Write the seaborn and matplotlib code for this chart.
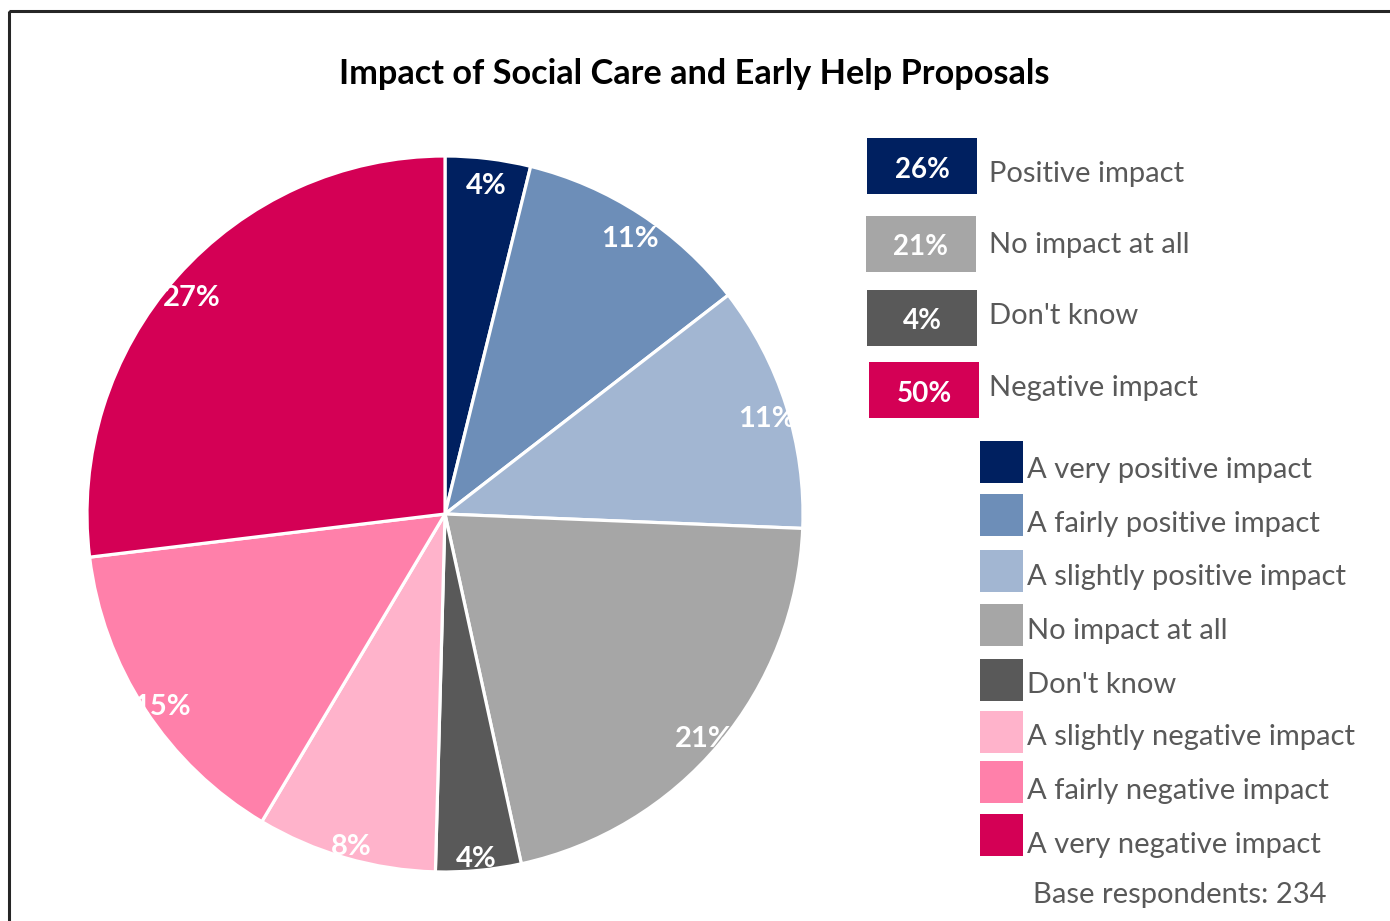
import matplotlib
matplotlib.use("Agg")
import matplotlib.pyplot as plt
from matplotlib.patches import Rectangle
import seaborn as sns

# ---- data ----
categories = ["A very positive impact", "A fairly positive impact", "A slightly positive impact",
              "No impact at all", "Don't know", "A slightly negative impact",
              "A fairly negative impact", "A very negative impact"]
counts = [9, 25, 26, 49, 9, 19, 34, 63]
colors = ["#002060", "#6D8EB8", "#A2B6D2", "#A6A6A6", "#595959", "#FFB3CB", "#FF80AA", "#D40055"]

summary_labels = ["Positive impact", "No impact at all", "Don't know", "Negative impact"]
summary_values = [26, 21, 4, 50]
summary_colors = ["#002060", "#A6A6A6", "#595959", "#D40055"]

base_n = 234
title = "Impact of Social Care and Early Help Proposals"

sns.set_theme(style="white")
plt.rcParams["font.family"] = ["Lato", "DejaVu Sans"]
palette = sns.color_palette(colors)

W, H = 1390, 921
fig = plt.figure(figsize=(W / 100, H / 100), dpi=100)

# pie axes: centre (445,514), radius 358 px
cx, cy, r = 445, 514, 358
ax = fig.add_axes([(cx - r) / W, (H - (cy + r)) / H, 2 * r / W, 2 * r / H])
wedges, texts, autotexts = ax.pie(
    counts, colors=palette, startangle=90, counterclock=False,
    autopct=lambda p: f"{round(p)}%", pctdistance=0.945, radius=1.0,
    wedgeprops=dict(edgecolor="white", linewidth=2.3),
    textprops=dict(color="white", fontsize=21, fontweight="bold"))
# small downward nudge of the labels, like the original
for t in autotexts:
    x, y = t.get_position()
    t.set_position((x, y - 8 / r))
ax.set_xlim(-1, 1)
ax.set_ylim(-1, 1)
ax.set_aspect("equal")
ax.axis("off")

# overlay axes in pixel coords
ov = fig.add_axes([0, 0, 1, 1], zorder=-1)
ov.set_xlim(0, W)
ov.set_ylim(H, 0)
ov.axis("off")
ov2 = fig.add_axes([0, 0, 1, 1])
ov2.set_xlim(0, W)
ov2.set_ylim(H, 0)
ov2.axis("off")
ov2.patch.set_alpha(0)

# frame
ov.add_patch(Rectangle((8.5, 11), W + 50, H + 50, fill=False, edgecolor="#262626", linewidth=2.2))

ov2.text(694, 74, title, ha="center", va="center", fontsize=24.7, fontweight="bold", color="black")

text_col = "#595959"
# summary legend
box_top = [138, 216, 290, 362]
box_x = [867, 866, 867, 869]
num_base = [178, 255, 329, 402]
lab_base = [182, 253, 324, 396]
for lab, val, col, t, x, nb, lb in zip(summary_labels, summary_values, summary_colors,
                                       box_top, box_x, num_base, lab_base):
    ov2.add_patch(Rectangle((x, t), 110, 56, facecolor=col, edgecolor="none"))
    ov2.text(x + 55, nb, f"{val}%", ha="center", va="baseline", color="white",
             fontsize=20, fontweight="bold")
    ov2.text(989, lb, lab, ha="left", va="baseline", color=text_col, fontsize=21)

# main legend
patch_top = [441, 494, 550, 604, 659, 711, 761, 814]
text_base = [478, 532, 585, 639, 693, 745, 799, 853]
for lab, col, t, b in zip(categories, palette, patch_top, text_base):
    ov2.add_patch(Rectangle((980, t), 43, 42, facecolor=col, edgecolor="none"))
    ov2.text(1027, b, lab, ha="left", va="baseline", color=text_col, fontsize=21)

ov2.text(1033, 903, f"Base respondents: {base_n}", ha="left", va="baseline",
         color=text_col, fontsize=21)

fig.savefig("out.png", dpi=100)
